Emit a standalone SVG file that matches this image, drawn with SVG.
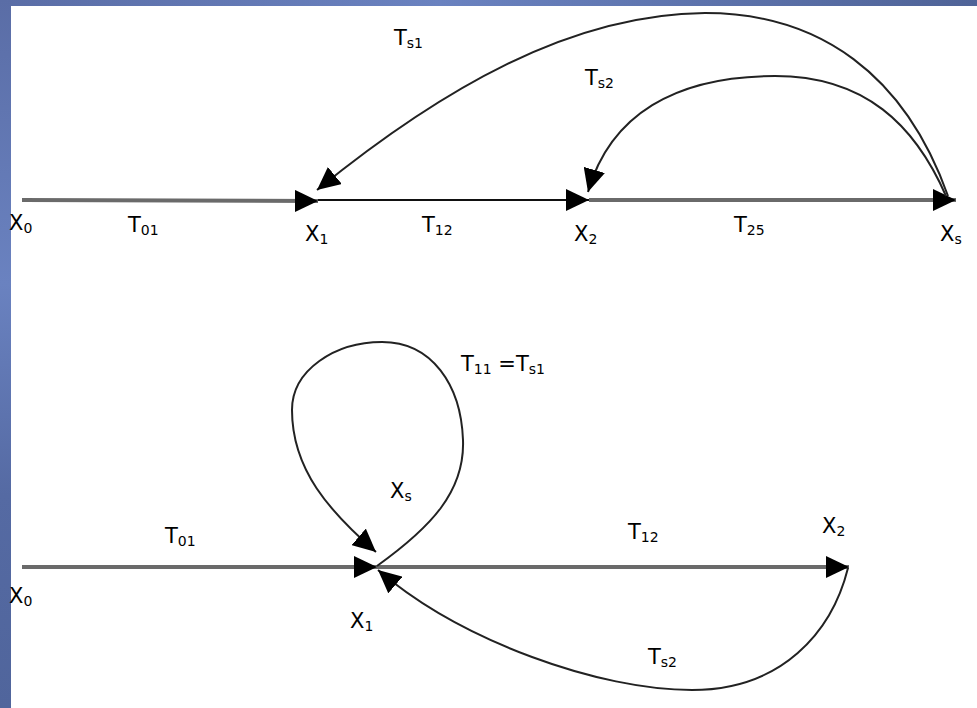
<svg xmlns="http://www.w3.org/2000/svg" width="977" height="708" viewBox="0 0 977 708">
<defs>
<linearGradient id="lb" x1="0" y1="0" x2="0" y2="1">
<stop offset="0" stop-color="#5a6da6"/>
<stop offset="0.4" stop-color="#6a82c0"/>
<stop offset="0.7" stop-color="#556aa3"/>
<stop offset="1" stop-color="#50659c"/>
</linearGradient>
<linearGradient id="tb" x1="0" y1="0" x2="1" y2="0">
<stop offset="0" stop-color="#5a6da6"/>
<stop offset="0.45" stop-color="#6a82c0"/>
<stop offset="1" stop-color="#4f6397"/>
</linearGradient>
<marker id="ah" markerUnits="userSpaceOnUse" markerWidth="24" markerHeight="22" refX="23" refY="11" orient="auto">
<path d="M0,0 L23,11 L0,22 Z" fill="#000"/>
</marker>
<style>
.t{font-family:"DejaVu Sans","Liberation Sans",sans-serif;font-size:21px;fill:#000}
.s{font-size:14px}
.g{fill:none;stroke:#6a6a6a;stroke-width:4}
.k{fill:none;stroke:#111;stroke-width:2.2}
.c{fill:none;stroke:#222;stroke-width:2}
</style>
</defs>
<rect width="977" height="708" fill="#fff"/>
<rect x="0" y="0" width="977" height="6" fill="url(#tb)"/>
<rect x="0" y="0" width="11" height="708" fill="url(#lb)"/>

<g id="connectors">
<path class="g" d="M22,200 L318,201" marker-end="url(#ah)"/>
<path class="k" d="M318,200 L589,200" marker-end="url(#ah)"/>
<path class="g" d="M589,200 L956,200" marker-end="url(#ah)"/>
<path class="c" d="M948,196 C905,75 820,13 705,13 C570,14 440,90 317,190" marker-end="url(#ah)"/>
<path class="c" d="M946,196 C915,125 865,76 775,76 C675,76 610,115 588,192" marker-end="url(#ah)"/>
<path class="g" d="M22,567 L377,567" marker-end="url(#ah)"/>
<path class="g" d="M377,567 L849,567" marker-end="url(#ah)"/>
<path class="c" d="M377,566 C430,528 465,492 463,440 C461,385 432,342 382,342 C335,342 292,370 292,410 C292,470 330,512 376,552" marker-end="url(#ah)"/>
<path class="c" d="M848,568 C832,632 782,690 692,690 C600,690 462,642 378,570" marker-end="url(#ah)"/>
</g>

<g id="top-x0"><text class="t" x="9" y="230">X<tspan class="s" dy="3">0</tspan></text></g>
<g id="top-x1"><text class="t" x="305" y="241">X<tspan class="s" dy="3">1</tspan></text></g>
<g id="top-x2"><text class="t" x="574" y="241">X<tspan class="s" dy="3">2</tspan></text></g>
<g id="top-xs"><text class="t" x="940" y="241">X<tspan class="s" dy="3">s</tspan></text></g>
<g id="top-labels">
<text class="t" x="128" y="232">T<tspan class="s" dy="3">01</tspan></text>
<text class="t" x="422" y="232">T<tspan class="s" dy="3">12</tspan></text>
<text class="t" x="734" y="232">T<tspan class="s" dy="3">25</tspan></text>
<text class="t" x="394" y="45">T<tspan class="s" dy="3">s1</tspan></text>
<text class="t" x="585" y="85">T<tspan class="s" dy="3">s2</tspan></text>
</g>

<g id="bot-x0"><text class="t" x="9" y="603">X<tspan class="s" dy="3">0</tspan></text></g>
<g id="bot-x1"><text class="t" x="350" y="628">X<tspan class="s" dy="3">1</tspan></text></g>
<g id="bot-xs"><text class="t" x="390" y="498">X<tspan class="s" dy="3">s</tspan></text></g>
<g id="bot-x2"><text class="t" x="822" y="533">X<tspan class="s" dy="3">2</tspan></text></g>
<g id="bot-labels">
<text class="t" x="165" y="543">T<tspan class="s" dy="3">01</tspan></text>
<text class="t" x="628" y="539">T<tspan class="s" dy="3">12</tspan></text>
<text class="t" x="461" y="371">T<tspan class="s" dy="3">11</tspan><tspan dy="-3"> =T</tspan><tspan class="s" dy="3">s1</tspan></text>
<text class="t" x="648" y="664">T<tspan class="s" dy="3">s2</tspan></text>
</g>
</svg>
